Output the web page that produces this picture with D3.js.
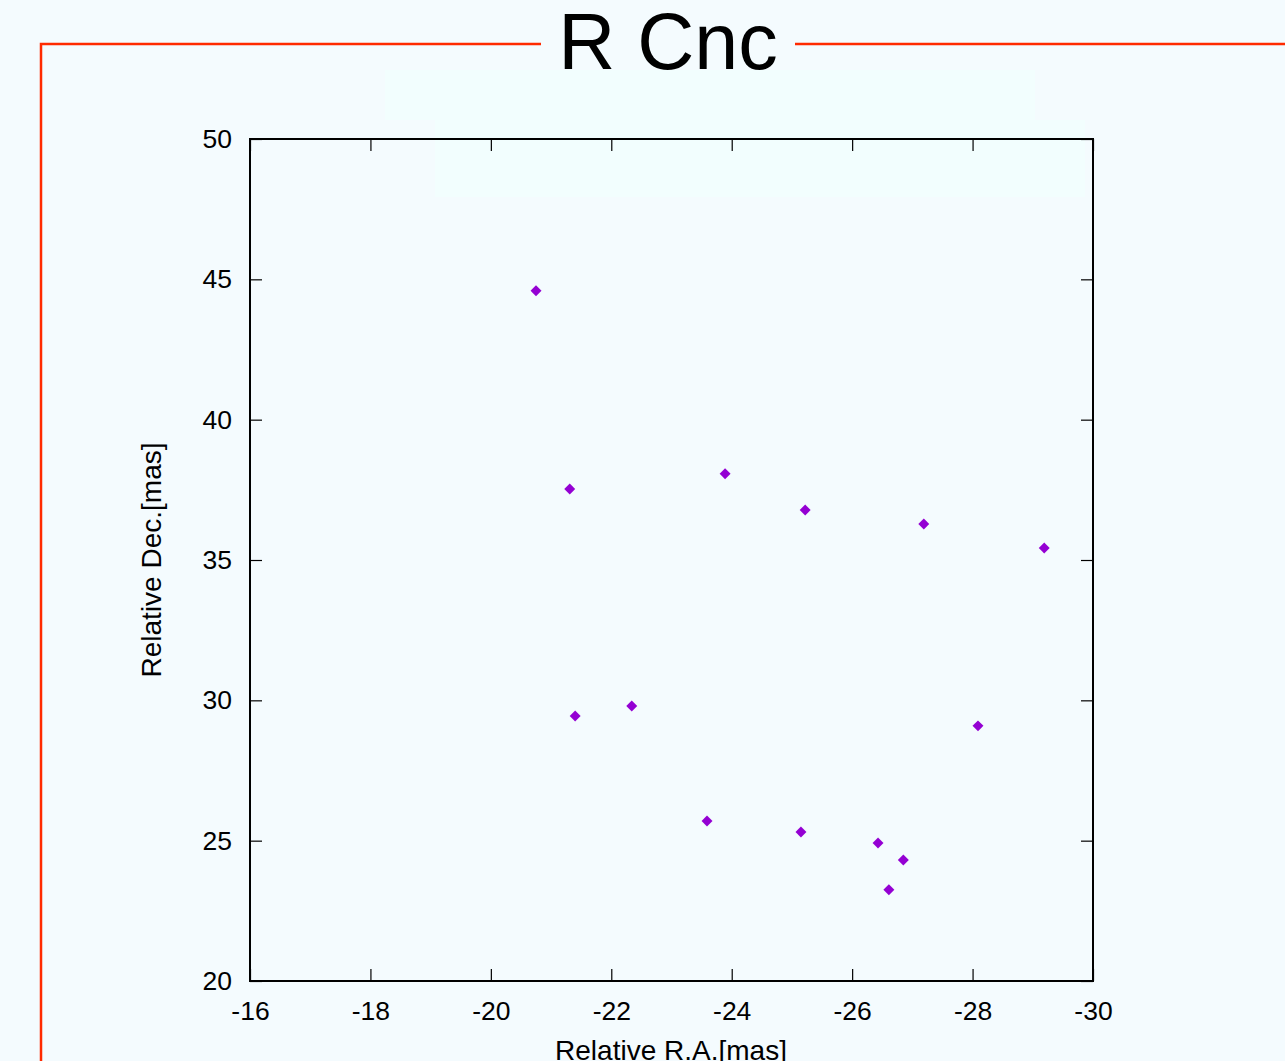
<!DOCTYPE html>
<html><head><meta charset="utf-8">
<script src="https://cdn.jsdelivr.net/npm/d3@7"></script>
<style>html,body{margin:0;padding:0;background:#f4fbfe;}svg{display:block;}</style>
</head><body>
<script>
const title = "R Cnc";
const xLabel = "Relative R.A.[mas]";
const yLabel = "Relative Dec.[mas]";
const raValues  = [-20.75, -21.31, -23.89, -25.22, -27.19, -29.19, -21.40, -22.34, -28.09, -23.59, -25.15, -26.43, -26.85, -26.61];
const decValues = [ 44.59,  37.53,  38.07,  36.78,  36.28,  35.43,  29.44,  29.80,  29.09,  25.70,  25.31,  24.92,  24.31,  23.25];
const xTicks = [-16, -18, -20, -22, -24, -26, -28, -30];
const yTicks = [20, 25, 30, 35, 40, 45, 50];

const W = 1285, H = 1061;
const svg = d3.select("body").append("svg").attr("width", W).attr("height", H);
svg.append("rect").attr("width", W).attr("height", H).attr("fill", "#f4fbfe");
// faint panels
svg.append("rect").attr("x",385).attr("y",70).attr("width",650).attr("height",50).attr("fill","#f2fefe");
svg.append("rect").attr("x",435).attr("y",120).attr("width",650).attr("height",77).attr("fill","#f2fefe");

// red frame
const red = "#ff2a00";
svg.append("path").attr("d", `M41,${H} L41,44 L541,44`).attr("fill","none").attr("stroke",red).attr("stroke-width",2.5);
svg.append("path").attr("d", `M795,44 L${W},44`).attr("fill","none").attr("stroke",red).attr("stroke-width",2.5);
svg.append("text").attr("x",668).attr("y",69).attr("text-anchor","middle")
  .attr("font-family","Liberation Sans, Arial, sans-serif").attr("font-size",79).attr("fill","#000").text(title);

const L=250, R=1093, T=139, B=981;
const x = d3.scaleLinear().domain([-16,-30]).range([L,R]);
const y = d3.scaleLinear().domain([20,50]).range([B,T]);
const font = "Liberation Sans, Arial, sans-serif";
const fmt = d => String(d);

function styleAxis(g){ g.select(".domain").remove(); g.selectAll("line").attr("stroke","#000").attr("stroke-width",1.2);
  g.selectAll("text").attr("font-family",font).attr("font-size",26.5).attr("fill","#000"); }

svg.append("g").attr("transform",`translate(0,${B})`)
  .call(d3.axisBottom(x).tickValues(xTicks).tickSize(-12).tickPadding(20).tickFormat(fmt))
  .call(styleAxis);
svg.append("g").attr("transform",`translate(0,${T})`)
  .call(d3.axisTop(x).tickValues(xTicks).tickSize(-12).tickFormat(""))
  .call(styleAxis);
svg.append("g").attr("transform",`translate(${L},0)`)
  .call(d3.axisLeft(y).tickValues(yTicks).tickSize(-12).tickPadding(18).tickFormat(fmt))
  .call(styleAxis);
svg.append("g").attr("transform",`translate(${R},0)`)
  .call(d3.axisRight(y).tickValues(yTicks).tickSize(-12).tickFormat(""))
  .call(styleAxis);

svg.append("rect").attr("x",L).attr("y",T).attr("width",R-L).attr("height",B-T)
  .attr("fill","none").attr("stroke","#000").attr("stroke-width",2);

const pts = raValues.map((v,i)=>({ra:v, dec:decValues[i]}));
svg.append("g").selectAll("path").data(pts).join("path")
  .attr("d", d3.symbol().type(d3.symbolSquare).size(60))
  .attr("transform", d=>`translate(${x(d.ra)},${y(d.dec)}) rotate(45)`)
  .attr("fill","#9400d3");

svg.append("text").attr("x",671).attr("y",1060).attr("text-anchor","middle")
  .attr("font-family",font).attr("font-size",28).attr("fill","#000").text(xLabel);
svg.append("text").attr("transform","translate(161,560) rotate(-90)").attr("text-anchor","middle")
  .attr("font-family",font).attr("font-size",28).attr("fill","#000").text(yLabel);
</script>
</body></html>
